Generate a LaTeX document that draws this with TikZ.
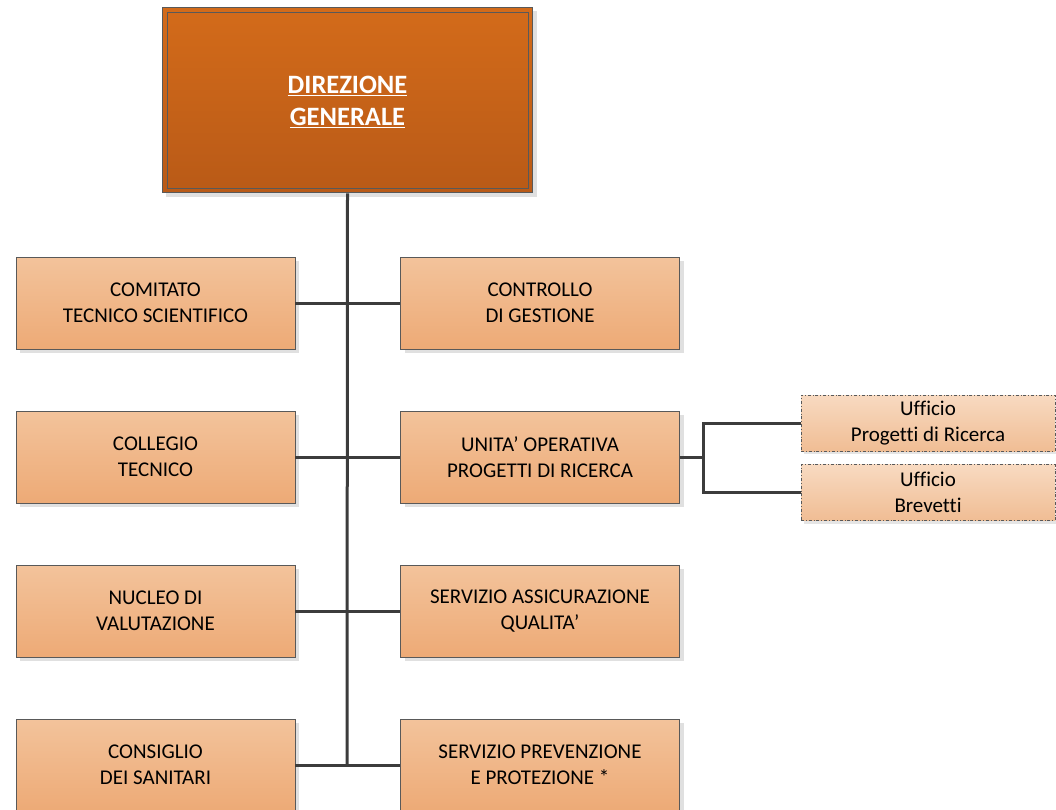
\documentclass[tikz,border=0pt]{standalone}
\usepackage{fontspec}
\setmainfont{Carlito}[Ligatures={NoCommon}]
\usetikzlibrary{shadows}
\definecolor{linec}{HTML}{3C3C3C}
\definecolor{boxborder}{HTML}{595959}
\tikzset{
  x=1pt,y=-1pt,
  unit/.style={draw=boxborder, line width=0.8pt, top color=ubtop, bottom color=ubbot,
    minimum width=279pt, minimum height=92pt, align=center, inner sep=0pt,
    font=\fontsize{21}{26}\selectfont, text=black,
    drop shadow={shadow xshift=4pt, shadow yshift=-4pt, fill=black!12, opacity=1}},
  office/.style={draw=boxborder, line width=0.7pt, dash dot, top color=oftop, bottom color=ofbot,
    minimum width=254pt, minimum height=56pt, align=center, inner sep=0pt,
    font=\fontsize{21}{26}\selectfont, text=black,
    drop shadow={shadow xshift=3pt, shadow yshift=-3pt, fill=black!10, opacity=1}},
  link/.style={draw=linec, line width=3pt},
}
\definecolor{ubtop}{HTML}{F3C39B}
\definecolor{ubbot}{HTML}{EDAA76}
\definecolor{oftop}{HTML}{F8DAC1}
\definecolor{ofbot}{HTML}{F0BD94}
\definecolor{dgtop}{HTML}{D36B1A}
\definecolor{dgbot}{HTML}{B95A17}
\begin{document}
\begin{tikzpicture}
\useasboundingbox (0,0) rectangle (1056,810);
% top box
\fill[black!12] (166,11) rectangle (537,197);
\node[draw=boxborder, line width=1.6pt, top color=dgtop, bottom color=dgbot,
  minimum width=370pt, minimum height=185pt, inner sep=0pt] (dg) at (347.5,100) {};
\draw[boxborder, line width=0.8pt] (167,12) rectangle (528,188);
\node[text=white, font=\fontsize{26.5}{32}\bfseries\selectfont, align=center] (dgt) at (347.5,102)
  {\underline{DIREZIONE}\\\underline{GENERALE}};
% units
\node[unit] (cts) at (155.5,303) {COMITATO\\TECNICO SCIENTIFICO};
\node[unit] (cdg) at (540,303) {CONTROLLO\\DI GESTIONE};
\node[unit] (ct) at (155.5,457) {COLLEGIO\\TECNICO};
\node[unit] (uo) at (540,457) {UNITA’ OPERATIVA\\PROGETTI DI RICERCA};
\node[unit] (nv) at (155.5,611) {NUCLEO DI\\VALUTAZIONE};
\node[unit] (saq) at (540,611) {SERVIZIO ASSICURAZIONE\\QUALITA’};
\node[unit] (cs) at (155.5,765) {CONSIGLIO\\DEI SANITARI};
\node[unit] (spp) at (540,765) {SERVIZIO PREVENZIONE\\E PROTEZIONE *};
% spine
\coordinate (s4) at (347,766);
\draw[link] (dg.south) -- (s4);
% connectors
\draw[link] (cts.east) -- (cdg.west);
\draw[link] (ct.east) -- (uo.west);
\draw[link] (nv.east) -- (saq.west);
\draw[link] (cs.east) -- (spp.west);
% offices
\node[office] (upr) at (928,423) {Ufficio\\Progetti di Ricerca};
\node[office] (ub) at (928,492.5) {Ufficio\\Brevetti};
\coordinate (br) at (703,457);
\draw[link] (uo.east) -- (br);
\draw[link] (upr.west) -| (br) |- (ub.west);
\end{tikzpicture}
\end{document}
